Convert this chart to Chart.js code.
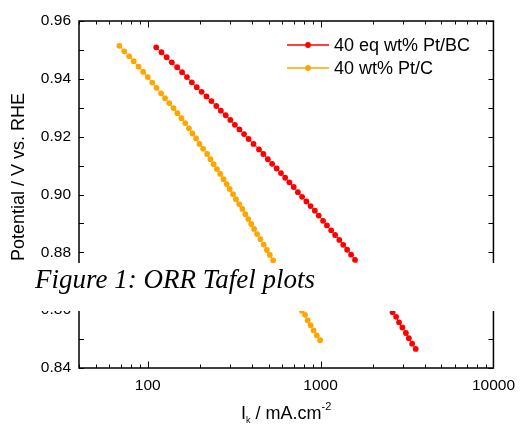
<!DOCTYPE html>
<html>
<head>
<meta charset="utf-8">
<script src="https://cdn.jsdelivr.net/npm/chart.js@4.4.1/dist/chart.umd.min.js"></script>
<style>
  html, body { margin: 0; padding: 0; background: #fff; }
  #wrap { width: 523px; height: 425px; }
</style>
</head>
<body>
<div id="wrap"><canvas id="tafelChart" width="523" height="425"></canvas></div>
<script>
// series names, as in the legend
const seriesLabels = ["40 eq wt% Pt/BC", "40 wt% Pt/C"];

// 40 eq wt% Pt/BC: kinetic current (mA.cm-2) and potential (V vs. RHE)
const pbcCurrent = [
  111.9, 120.0, 128.6, 137.8, 147.9, 157.9, 168.5, 179.9, 192.0, 204.9,
  218.8, 233.5, 249.3, 264.7, 282.5, 300.3, 319.2, 339.0, 360.5, 383.3,
  409.2, 440.1, 466.2, 495.0, 524.2, 556.6, 589.5, 623.6, 659.7, 698.6,
  738.9, 781.5, 827.6, 875.4, 926.0, 975.5, 1033, 1088, 1151, 1213,
  1283, 1352, 1424, 1501, 1581,
  2608, 2734, 2843, 2972, 3115, 3239, 3386, 3549
];
const pbcPotential = [
  0.9509, 0.9492, 0.9475, 0.9457, 0.9440, 0.9423, 0.9406, 0.9388, 0.9371, 0.9355,
  0.9339, 0.9323, 0.9306, 0.9290, 0.9274, 0.9258, 0.9241, 0.9225, 0.9209, 0.9192,
  0.9175, 0.9156, 0.9140, 0.9122, 0.9106, 0.9090, 0.9074, 0.9058, 0.9042, 0.9026,
  0.9008, 0.8992, 0.8976, 0.8960, 0.8944, 0.8927, 0.8909, 0.8893, 0.8876, 0.8860,
  0.8843, 0.8826, 0.8809, 0.8792, 0.8774,
  0.8593, 0.8577, 0.8558, 0.8540, 0.8521, 0.8503, 0.8484, 0.8466
];

// 40 wt% Pt/C
const pcCurrent = [
  68.5, 73.1, 78.1, 82.9, 88.5, 94.1, 100.0, 106.2, 112.4, 119.4,
  125.8, 133.2, 140.9, 148.5, 156.5, 164.8, 173.0, 181.3, 190.3, 199.0,
  209.0, 220.4, 230.4, 240.5, 251.2, 262.6, 274.2, 286.2, 297.6, 311.2,
  323.6, 337.8, 352.6, 366.7, 381.4, 396.6, 412.4, 428.9, 448.4, 468.2,
  488.8, 508.2, 531.2,
  778.5, 812.7, 841.8, 875.4, 910.4, 950.4, 993.6
];
const pcPotential = [
  0.9514, 0.9495, 0.9478, 0.9461, 0.9442, 0.9424, 0.9406, 0.9387, 0.9369, 0.9350,
  0.9333, 0.9316, 0.9299, 0.9281, 0.9264, 0.9247, 0.9229, 0.9211, 0.9194, 0.9175,
  0.9158, 0.9140, 0.9122, 0.9105, 0.9088, 0.9071, 0.9053, 0.9036, 0.9019, 0.9001,
  0.8984, 0.8967, 0.8950, 0.8932, 0.8915, 0.8898, 0.8881, 0.8863, 0.8846, 0.8827,
  0.8808, 0.8791, 0.8772,
  0.8598, 0.8584, 0.8565, 0.8548, 0.8530, 0.8513, 0.8496
];

// axes
const xRange = [40, 10000];
const xTickValues = [100, 1000, 10000];
const yRange = [0.84, 0.96];
const yTickValues = [0.84, 0.86, 0.88, 0.90, 0.92, 0.94, 0.96];

const captionText = "Figure 1: ORR Tafel plots";
const yTitle = "Potential / V vs. RHE";

const SANS = '"Liberation Sans", Arial, sans-serif';
const SERIF = '"Liberation Serif", "Times New Roman", serif';

window.TafelChart = {
  colors: ["#ff0000", "#ffa500"],

  init() {
    this.canvas = document.getElementById("tafelChart");
    Chart.defaults.font.family = SANS;
    Chart.defaults.color = "#000";
    this.chart = new Chart(this.canvas, this.config());
  },

  points(xs, ys) {
    return xs.map((x, i) => ({ x, y: ys[i] }));
  },

  config() {
    const self = this;
    return {
      type: "line",
      data: {
        datasets: [
          this.dataset(seriesLabels[0], this.points(pbcCurrent, pbcPotential), this.colors[0]),
          this.dataset(seriesLabels[1], this.points(pcCurrent, pcPotential), this.colors[1])
        ]
      },
      options: {
        responsive: false,
        animation: false,
        layout: { padding: { left: 0, top: 21, right: 21, bottom: 0 } },
        plugins: { legend: { display: false }, tooltip: { enabled: false } },
        scales: {
          x: {
            type: "logarithmic",
            min: xRange[0],
            max: xRange[1],
            afterBuildTicks: (s) => { s.ticks = xTickValues.map((v) => ({ value: v })); },
            afterFit: (s) => { s.height = 57; },
            grid: { display: false, drawTicks: false },
            border: { display: false },
            ticks: {
              autoSkip: false,
              maxRotation: 0,
              padding: 8,
              font: { size: 15.5 },
              color: "#000",
              callback: (v) => String(v)
            }
          },
          y: {
            type: "linear",
            min: yRange[0],
            max: yRange[1],
            afterBuildTicks: (s) => { s.ticks = yTickValues.map((v) => ({ value: v })); },
            afterFit: (s) => { s.width = 79; },
            grid: { display: false, drawTicks: false },
            border: { display: false },
            ticks: {
              autoSkip: false,
              padding: 8,
              font: { size: 15.5 },
              color: "#000",
              callback: (v) => Number(v).toFixed(2)
            }
          }
        }
      },
      plugins: [
        { id: "frame", afterDatasetsDraw: (chart) => self.drawFrame(chart) },
        { id: "overlay", afterDraw: (chart) => self.drawOverlay(chart) }
      ]
    };
  },

  dataset(label, data, color) {
    return {
      label,
      data,
      borderColor: color,
      backgroundColor: color,
      borderWidth: 1,
      pointRadius: 2.9,
      pointBorderWidth: 0,
      pointBackgroundColor: color,
      tension: 0,
      fill: false
    };
  },

  drawFrame(chart) {
    const { ctx, chartArea: a, scales: { x, y } } = chart;
    ctx.save();
    ctx.strokeStyle = "#000";
    ctx.lineWidth = 1;
    ctx.beginPath();
    // log ticks, inward on bottom and top
    for (let d = 10; d <= xRange[1]; d *= 10) {
      for (let k = 1; k < 10; k++) {
        const v = d * k;
        if (v < xRange[0] || v > xRange[1]) continue;
        const px = Math.round(x.getPixelForValue(v)) + 0.5;
        const len = k === 1 ? 6.5 : 3.5;
        ctx.moveTo(px, a.bottom);
        ctx.lineTo(px, a.bottom - len);
        ctx.moveTo(px, a.top);
        ctx.lineTo(px, a.top + len);
      }
    }
    // y ticks every 0.01, inward left and right
    for (let i = 0; i <= 12; i++) {
      const v = yRange[0] + i * 0.01;
      const py = Math.round(y.getPixelForValue(v)) + 0.5;
      ctx.moveTo(a.left, py);
      ctx.lineTo(a.left + 5, py);
      ctx.moveTo(a.right, py);
      ctx.lineTo(a.right - 5, py);
    }
    ctx.stroke();
    ctx.lineWidth = 1.5;
    ctx.strokeRect(a.left, a.top, a.right - a.left, a.bottom - a.top);
    ctx.restore();
  },

  drawOverlay(chart) {
    const { ctx, chartArea: a } = chart;
    ctx.save();
    ctx.fillStyle = "#000";

    // y axis title
    ctx.save();
    ctx.translate(19, 177);
    ctx.rotate(-Math.PI / 2);
    ctx.font = `18px ${SANS}`;
    ctx.textAlign = "center";
    ctx.textBaseline = "middle";
    ctx.fillText(yTitle, 0, 0);
    ctx.restore();

    // x axis title: I_k / mA.cm^-2
    const cx = (a.left + a.right) / 2;
    const base = 419;
    const parts = [
      { t: "I", f: `18px ${SANS}`, dy: 0 },
      { t: "k", f: `9px ${SANS}`, dy: 4 },
      { t: " / mA.cm", f: `18px ${SANS}`, dy: 0 },
      { t: "-2", f: `11px ${SANS}`, dy: -9 }
    ];
    let total = 0;
    parts.forEach((p) => { ctx.font = p.f; p.w = ctx.measureText(p.t).width; total += p.w; });
    let px = cx - total / 2;
    ctx.textAlign = "left";
    ctx.textBaseline = "alphabetic";
    parts.forEach((p) => { ctx.font = p.f; ctx.fillText(p.t, px, base + p.dy); px += p.w; });

    // legend: line with a dot, then the name
    ctx.font = `18px ${SANS}`;
    ctx.textBaseline = "middle";
    seriesLabels.forEach((label, i) => {
      const ly = Math.round(45 + i * 22.7);
      const color = this.colors[i];
      ctx.strokeStyle = color;
      ctx.lineWidth = 1.6;
      ctx.beginPath();
      ctx.moveTo(287, ly);
      ctx.lineTo(329, ly);
      ctx.stroke();
      ctx.fillStyle = color;
      ctx.beginPath();
      ctx.arc(308, ly, 2.9, 0, Math.PI * 2);
      ctx.fill();
      ctx.fillStyle = "#000";
      ctx.fillText(label, 334, ly + 1);
    });

    // caption band laid over the plot
    ctx.fillStyle = "#fff";
    ctx.fillRect(31, 263, 523 - 31, 48);
    ctx.fillStyle = "#000";
    ctx.font = `italic 27px ${SERIF}`;
    ctx.textBaseline = "alphabetic";
    ctx.fillText(captionText, 35, 288);
    ctx.restore();
  }
};

document.addEventListener("DOMContentLoaded", () => {
  window.TafelChart.init();
});
</script>
</body>
</html>
